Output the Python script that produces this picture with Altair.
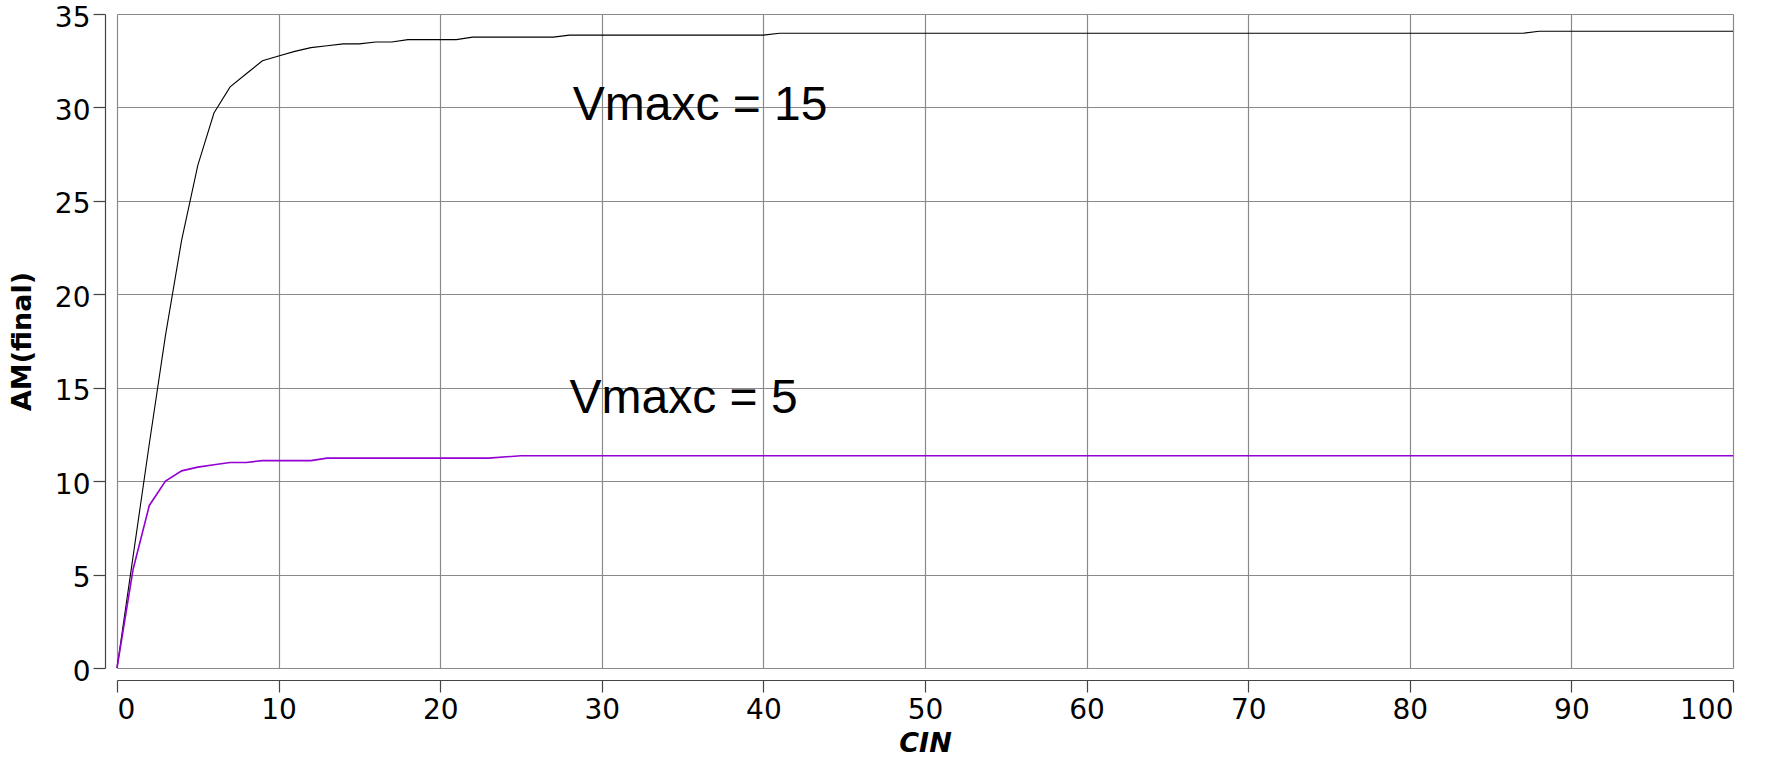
import altair as alt
import pandas as pd

# --- data ---
cin_15 = [0, 1, 2, 3, 4, 5, 6, 7, 8, 9, 10, 11, 12, 13, 14, 15, 16, 17, 18, 21, 22, 27, 28, 40, 41, 87, 88, 100]
am_15 = [0, 6.0, 12.0, 17.8, 22.9, 26.9, 29.7, 31.1, 31.8, 32.5, 32.75, 33.0, 33.2, 33.3, 33.4, 33.4, 33.5, 33.5,
         33.63, 33.63, 33.76, 33.76, 33.87, 33.87, 33.97, 33.97, 34.08, 34.08]

cin_5 = [0, 1, 2, 3, 4, 5, 6, 7, 8, 9, 12, 13, 23, 25, 100]
am_5 = [0, 5.3, 8.7, 10.0, 10.55, 10.75, 10.88, 11.0, 11.0, 11.1, 11.1, 11.23, 11.23, 11.36, 11.36]

label_text = ["Vmaxc = 15", "Vmaxc = 5"]
label_x = [28.2, 28.0]
label_y = [29.33, 13.66]

x_ticks = list(range(0, 101, 10))
y_ticks = list(range(0, 36, 5))

df15 = pd.DataFrame({"CIN": cin_15, "AM": am_15})
df5 = pd.DataFrame({"CIN": cin_5, "AM": am_5})
dflab = pd.DataFrame({"text": label_text, "CIN": label_x, "AM": label_y})

x_enc = alt.X("CIN:Q", scale=alt.Scale(domain=[0, 100], nice=False),
              axis=alt.Axis(values=x_ticks, title="CIN", offset=12, tickSize=12,
                            labelPadding=4, titlePadding=6,
                            titleFontStyle="italic"))
y_enc = alt.Y("AM:Q", scale=alt.Scale(domain=[0, 35], nice=False),
              axis=alt.Axis(values=y_ticks, title="AM(final)", offset=12, tickSize=12,
                            labelPadding=3, labelOffset=4, titlePadding=18))

line15 = alt.Chart(df15).mark_line(color="#000000", strokeWidth=1.1).encode(x=x_enc, y=y_enc)
line5 = alt.Chart(df5).mark_line(color="#9400D3", strokeWidth=1.6).encode(x="CIN:Q", y="AM:Q")
labels = alt.Chart(dflab).mark_text(
    align="left", baseline="alphabetic", font="Liberation Sans", fontSize=48, color="#000000"
).encode(x="CIN:Q", y="AM:Q", text="text:N")

chart = alt.layer(line15, line5, labels).properties(
    width=1616, height=654,
    autosize=alt.AutoSizeParams(type="none"),
    padding={"left": 117, "top": 14, "right": 52, "bottom": 93},
    background="#ffffff",
).configure_view(strokeWidth=0).configure_axis(
    grid=True, gridColor="#8a8a8a", gridWidth=1.2,
    domainColor="#444444", domainWidth=1.2,
    tickColor="#444444", tickWidth=1.2,
    labelFont="DejaVu Sans", labelFontSize=28, labelColor="#000000",
    titleFont="DejaVu Sans", titleFontSize=27, titleFontWeight="bold", titleColor="#000000",
)

chart.save("out.html", embed_options={"renderer": "svg", "actions": False})
